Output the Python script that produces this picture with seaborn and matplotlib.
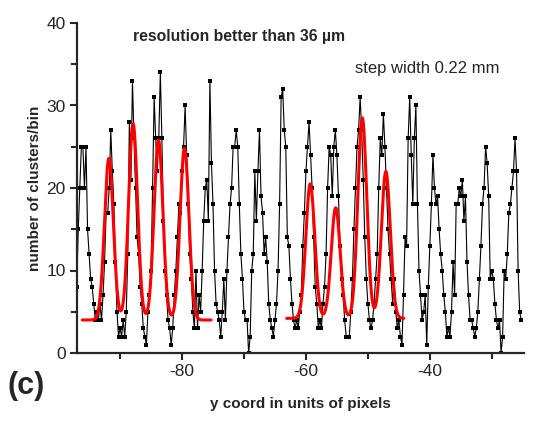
import numpy as np
import pandas as pd
import matplotlib
matplotlib.use("Agg")
import matplotlib.pyplot as plt
import seaborn as sns

# ---- data ----
x_start = -97.0
x_step = 0.25
counts = [
    8, 15, 20, 25, 25, 20, 25, 15, 12, 9, 8, 6, 4, 5, 4, 6, 4,
    7, 11, 17, 17, 20, 27, 22, 18, 11, 5, 2, 3, 2, 4, 2, 5,
    12, 28, 21, 33, 26, 20, 14, 12, 8, 6, 3, 2, 1, 5, 7, 10,
    20, 31, 26, 22, 26, 34, 26, 16, 10, 7, 4, 3, 1, 3, 7, 10,
    14, 18, 17, 22, 25, 30, 24, 18, 12, 9, 5, 3, 10, 3, 7, 5,
    10, 16, 20, 21, 16, 33, 23, 18, 10, 6, 5, 4, 2, 5, 9, 4,
    10, 14, 18, 20, 25, 25, 27, 25, 18, 12, 9, 5, 4, 4, 0, 2,
    10, 12, 22, 16, 22, 27, 19, 17, 12, 14, 11, 6, 4, 3, 2, 4,
    6, 10, 18, 31, 32, 27, 25, 14, 13, 9, 6, 4, 3, 4, 3, 5,
    7, 13, 17, 22, 25, 28, 24, 20, 14, 8, 6, 3, 4, 3, 6, 8,
    12, 20, 25, 24, 19, 25, 27, 24, 19, 13, 9, 7, 4, 2, 2, 2,
    5, 9, 15, 20, 25, 27, 31, 27, 21, 14, 9, 6, 4, 3, 4, 6,
    9, 12, 20, 26, 24, 29, 25, 20, 15, 12, 9, 6, 9, 5, 3, 4,
    2, 1, 7, 14, 13, 26, 31, 24, 18, 26, 30, 18, 10, 7, 4, 5,
    7, 1, 8, 13, 18, 24, 20, 18, 19, 15, 12, 10, 7, 5, 2, 3, 2, 5,
    11, 7, 18, 18, 20, 19, 21, 16, 19, 11, 7, 4, 4, 3, 2, 3,
    5, 9, 13, 18, 20, 25, 23, 19, 9, 10, 9, 6, 4, 3, 4, 0,
    2, 10, 9, 12, 17, 18, 20, 22, 26, 22, 10, 5, 4,
]
y_coord = x_start + x_step * np.arange(len(counts))

# Gaussian fit parameters (two groups of four peaks)
fit1_range = (-96.1, -75.3)
fit1_base = 4.0
fit1_centers = [-91.8, -87.9, -83.8, -79.6]
fit1_amps = [19.6, 23.8, 21.8, 20.8]
fit2_range = (-63.1, -44.2)
fit2_base = 4.2
fit2_centers = [-59.3, -55.2, -50.9, -47.1]
fit2_amps = [16.3, 13.4, 24.3, 17.8]
fit_sigma = 0.72

def fit_curve(rng, base, centers, amps, sigma):
    xs = np.linspace(rng[0], rng[1], 600)
    ys = np.full_like(xs, base)
    for c, a in zip(centers, amps):
        ys += a * np.exp(-0.5 * ((xs - c) / sigma) ** 2)
    return pd.DataFrame({"x": xs, "y": ys})

sns.set_style("ticks")
plt.rcParams["font.family"] = ["Liberation Sans", "DejaVu Sans"]
plt.rcParams["axes.unicode_minus"] = False

fig = plt.figure(figsize=(5.33, 4.23), dpi=100)
ax = fig.add_axes([76.7 / 533, 1 - 353 / 423, (524 - 76.7) / 533, (353 - 23) / 423])

df = pd.DataFrame({"x": y_coord, "y": counts})
sns.lineplot(data=df, x="x", y="y", ax=ax, color="black", lw=0.8,
             marker="s", markersize=2.6, markeredgewidth=0, sort=False,
             estimator=None, zorder=2)

for rng, base, cs, amps in [(fit1_range, fit1_base, fit1_centers, fit1_amps),
                            (fit2_range, fit2_base, fit2_centers, fit2_amps)]:
    fdf = fit_curve(rng, base, cs, amps, fit_sigma)
    sns.lineplot(data=fdf, x="x", y="y", ax=ax, color="#ff0000", lw=2.2,
                 sort=False, estimator=None, zorder=3)

ax.set_xlim(-97, -24.8)
ax.set_ylim(0, 40)
ax.set_xticks([-80, -60, -40])
ax.set_xticks([-90, -70, -50, -30], minor=True)
ax.set_yticks([0, 10, 20, 30, 40])
ax.set_yticks([5, 15, 25, 35], minor=True)
ax.tick_params(axis="both", which="major", length=5, width=1.5, labelsize=12.5,
               direction="out", pad=3)
ax.tick_params(axis="both", which="minor", length=4, width=1.5, direction="out")
for s in ["top", "right"]:
    ax.spines[s].set_visible(False)
for s in ["left", "bottom"]:
    ax.spines[s].set_linewidth(1.6)

ax.set_xlabel("y coord in units of pixels", fontsize=11, fontweight="bold", labelpad=13)
ax.set_ylabel("number of clusters/bin", fontsize=11, fontweight="bold", labelpad=3)

fig.text(239 / 533, 1 - 36 / 423, "resolution better than 36 µm", fontsize=11.3,
         fontweight="bold", ha="center", va="center")
fig.text(427 / 533, 1 - 68 / 423, "step width 0.22 mm", fontsize=12,
         ha="center", va="center")
fig.text(26 / 533, 1 - 386 / 423, "(c)", fontsize=22, fontweight="bold",
         ha="center", va="center")

fig.savefig("out.png", dpi=100)
